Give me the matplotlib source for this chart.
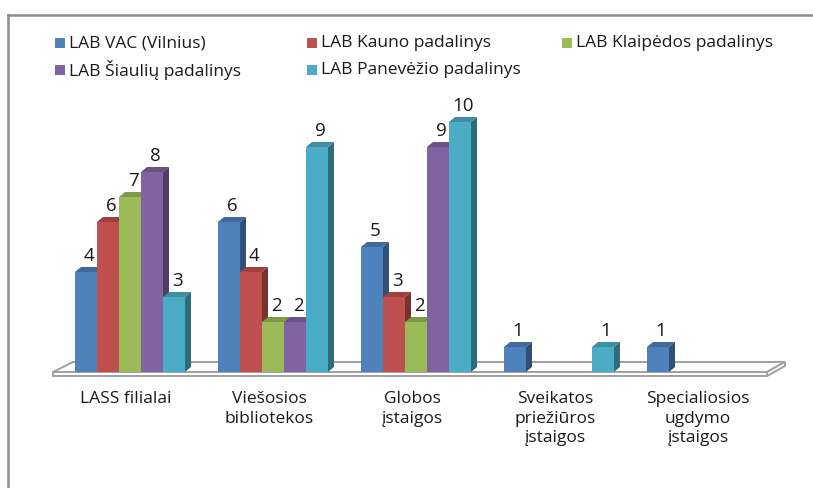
import matplotlib
matplotlib.use("Agg")
import matplotlib.pyplot as plt
import numpy as np
from matplotlib.patches import Polygon, Rectangle
from matplotlib.colors import to_rgb

categories = ["LASS filialai", "Viešosios\nbibliotekos", "Globos\nįstaigos",
              "Sveikatos\npriežiūros\nįstaigos", "Specialiosios\nugdymo\nįstaigos"]
series_names = ["LAB VAC (Vilnius)", "LAB Kauno padalinys", "LAB Klaipėdos padalinys",
                "LAB Šiaulių padalinys", "LAB Panevėžio padalinys"]
vac = [4, 6, 5, 1, 1]
kaunas = [6, 4, 3, 0, 0]
klaipeda = [7, 2, 2, 0, 0]
siauliai = [8, 2, 9, 0, 0]
panevezys = [3, 9, 10, 1, 0]
series = [vac, kaunas, klaipeda, siauliai, panevezys]
colors = ["#4F81BD", "#C0504D", "#9BBB59", "#8064A2", "#4BACC6"]

plt.rcParams['font.family'] = ['Open Sans', 'DejaVu Sans']

W, H = 813, 488
fig = plt.figure(figsize=(W/100, H/100), dpi=100)
ax = fig.add_axes([0, 0, 1, 1])
# pixel mapping: x_px = 130 + 143*x ; y_px = 372 - 25*v
gx, gs = 130, 143
base, us = 372, 25
ax.set_xlim((0 - gx)/gs, (W - gx)/gs)
ax.set_ylim((base - H)/us, base/us)
ax.axis('off')

pxx = 1/gs   # data per pixel (x)
pxy = 1/us   # data per pixel (y)
dx, dy = 6*pxx, 5*pxy
bw = 22*pxx

def shade(c, f):
    r, g, b = to_rgb(c)
    return (r*f, g*f, b*f)

# floor
fl = (53 - gx)*pxx
fr = (767 - gx)*pxx
bl = (73 - gx)*pxx
br = (785 - gx)*pxx
yb = (base - 362)*pxy
yf0 = 0.0
yf1 = (base - 376)*pxy
ec = '#A0A0A0'
ax.add_patch(Polygon([(fl, yf0), (fr, yf0), (br, yb), (bl, yb)], closed=True,
                     facecolor='white', edgecolor=ec, lw=1.4, zorder=1))
ax.add_patch(Polygon([(fl, yf1), (fr, yf1), (fr, yf0), (fl, yf0)], closed=True,
                     facecolor='white', edgecolor=ec, lw=1.4, zorder=1))
ax.add_patch(Polygon([(fr, yf1), (br, yb + yf1), (br, yb), (fr, yf0)], closed=True,
                     facecolor='white', edgecolor=ec, lw=1.4, zorder=1))

x = np.arange(len(categories))
for j, (vals, c) in enumerate(zip(series, colors)):
    xs = x - 2.5*bw + j*bw
    for xi, v in zip(xs, vals):
        if v <= 0:
            continue
        ax.bar(xi, v, width=bw, align='edge', color=c, zorder=3 + j, lw=0)
        ax.add_patch(Polygon([(xi + bw, 0), (xi + bw + dx, dy), (xi + bw + dx, v + dy), (xi + bw, v)],
                             closed=True, facecolor=shade(c, 0.62), lw=0, zorder=2 + j))
        ax.add_patch(Polygon([(xi, v), (xi + bw, v), (xi + bw + dx, v + dy), (xi + dx, v + dy)],
                             closed=True, facecolor=shade(c, 0.82), lw=0, zorder=3 + j))
        ax.text(xi + bw/2 + dx/2, v + 16*pxy, str(v), ha='center', va='center',
                fontsize=13.5, color='#1a1a1a', zorder=20)

for xi, lab in zip(x, categories):
    ax.text(xi - 4*pxx, (base - 391)*pxy, lab, ha='center', va='top', fontsize=12.5,
            linespacing=1.3, color='#1a1a1a')

# legend
leg_pos = [(55, 43), (307, 43), (562, 43), (55, 70), (307, 70)]
for (lx, ly), name, c in zip(leg_pos, series_names, colors):
    fig.patches.append(Rectangle((lx/W, 1 - (ly + 5)/H), 10/W, 10/H, transform=fig.transFigure,
                                 facecolor=c, edgecolor='none'))
    fig.text((lx + 14)/W, 1 - ly/H, name, ha='left', va='center', fontsize=12.5, color='#1a1a1a')

# chart frame
fig.add_artist(plt.Line2D([8/W, 1], [1 - 15/H, 1 - 15/H], transform=fig.transFigure,
                          color='#8C8C8C', lw=1.8))
fig.add_artist(plt.Line2D([8/W, 8/W], [0, 1 - 15/H], transform=fig.transFigure,
                          color='#8C8C8C', lw=1.8))

fig.savefig("out.png", dpi=100)
